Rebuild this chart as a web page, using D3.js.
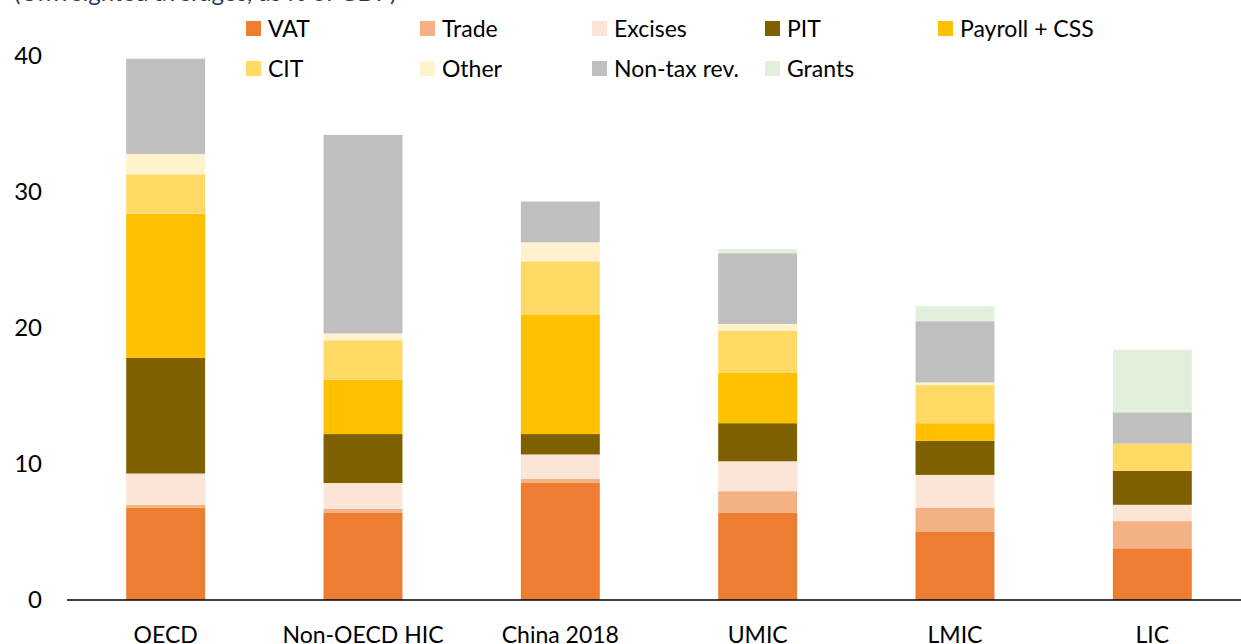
<!DOCTYPE html>
<html>
<head>
<meta charset="utf-8">
<script src="https://cdn.jsdelivr.net/npm/d3@7"></script>
<style>
  html, body { margin: 0; padding: 0; background: #fff; overflow: hidden; }
  svg { display: block; font-family: "Lato", "Liberation Sans", sans-serif; }
</style>
</head>
<body>
<svg id="chart" width="1241" height="644"></svg>
<script>
// Revenue composition by country group (% of GDP)
const categories = ["OECD", "Non-OECD HIC", "China 2018", "UMIC", "LMIC", "LIC"];

const vat     = [6.8, 6.4, 8.6, 6.4, 5.0, 3.8];
const trade   = [0.2, 0.3, 0.3, 1.6, 1.8, 2.0];
const excises = [2.3, 1.9, 1.8, 2.2, 2.4, 1.2];
const pit     = [8.5, 3.6, 1.5, 2.8, 2.5, 2.5];
const payroll = [10.6, 4.0, 8.8, 3.7, 1.3, 0.0];
const cit     = [2.9, 2.9, 3.9, 3.1, 2.8, 2.0];
const other   = [1.5, 0.5, 1.4, 0.5, 0.2, 0.0];
const nontax  = [7.0, 14.6, 3.0, 5.2, 4.5, 2.3];
const grants  = [0.0, 0.0, 0.0, 0.3, 1.1, 4.6];

const seriesNames = ["VAT", "Trade", "Excises", "PIT", "Payroll + CSS", "CIT", "Other", "Non-tax rev.", "Grants"];
const seriesValues = [vat, trade, excises, pit, payroll, cit, other, nontax, grants];
const seriesColors = ["#ED7D31", "#F4B183", "#FBE5D6", "#7F6000", "#FFC000", "#FFD966", "#FFF2CC", "#BFBFBF", "#E2EFDA"];

const yTicks = [0, 10, 20, 30, 40];
const titleText = "(Unweighted averages, as % of GDP)";

const svg = d3.select("#chart");

// Build table rows for the stack layout
const rows = categories.map((c, i) => {
  const r = { category: c };
  seriesNames.forEach((s, k) => { r[s] = seriesValues[k][i]; });
  return r;
});

const stack = d3.stack().keys(seriesNames);
const layers = stack(rows);

const x = d3.scaleBand()
  .domain(categories)
  .range([67, 1251])
  .paddingInner(0.6)
  .paddingOuter(0.3);

const y = d3.scaleLinear().domain([0, 40]).range([600, 56]);

const color = d3.scaleOrdinal().domain(seriesNames).range(seriesColors);

// Title (sits mostly above the visible area)
svg.append("text")
  .attr("x", 14)
  .attr("y", 1)
  .attr("fill", "#1F3864")
  .attr("font-size", 24)
  .text(titleText);

// Stacked bars
svg.append("g")
  .selectAll("g")
  .data(layers)
  .join("g")
  .attr("fill", d => color(d.key))
  .selectAll("rect")
  .data(d => d)
  .join("rect")
  .attr("x", d => x(d.data.category))
  .attr("width", x.bandwidth())
  .attr("y", d => y(d[1]))
  .attr("height", d => Math.max(0, y(d[0]) - y(d[1])));

// Y axis (labels only)
const yAxis = d3.axisLeft(y).tickValues(yTicks).tickSize(0).tickPadding(0);
const gy = svg.append("g")
  .attr("transform", "translate(42,0)")
  .call(yAxis);
gy.select(".domain").remove();
gy.selectAll("text")
  .attr("font-size", 24)
  .attr("font-family", "Lato, 'Liberation Sans', sans-serif")
  .attr("fill", "#000");

// X axis line and category labels
const xAxis = d3.axisBottom(x).tickSize(0).tickPadding(0);
const gx = svg.append("g")
  .attr("transform", "translate(0,600)")
  .call(xAxis);
gx.select(".domain").remove();
gx.selectAll("text")
  .attr("font-size", 23)
  .attr("font-family", "Lato, 'Liberation Sans', sans-serif")
  .attr("fill", "#000")
  .attr("dy", null)
  .attr("y", 43);

svg.append("line")
  .attr("x1", 67).attr("x2", 1241)
  .attr("y1", y(0)).attr("y2", y(0))
  .attr("stroke", "#000")
  .attr("stroke-width", 1.3);

// Legend in two rows
const legendX = [246, 420, 592, 765, 938];
const legendY = [28.5, 68.5];
const legend = svg.append("g")
  .selectAll("g")
  .data(seriesNames)
  .join("g")
  .attr("transform", (d, i) => `translate(${legendX[i % 5]},${legendY[Math.floor(i / 5)]})`);

legend.append("rect")
  .attr("x", 0).attr("y", -7.5)
  .attr("width", 15).attr("height", 15)
  .attr("fill", d => color(d));

legend.append("text")
  .attr("x", 22)
  .attr("y", 0)
  .attr("dy", "0.35em")
  .attr("font-size", 23)
  .attr("fill", "#000")
  .text(d => d);
</script>
</body>
</html>
